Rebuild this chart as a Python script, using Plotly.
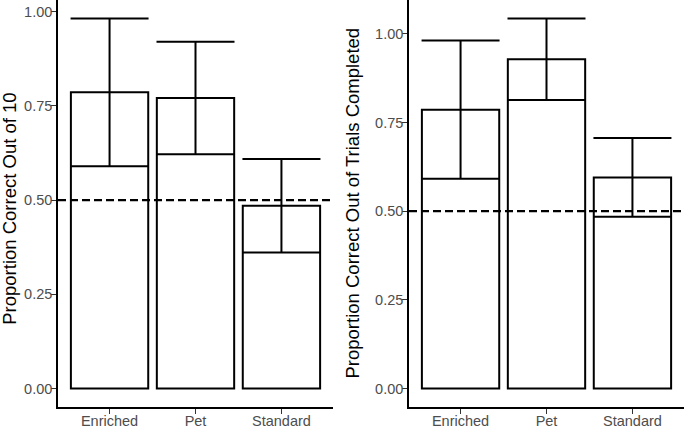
import plotly.graph_objects as go

categories = ["Enriched", "Pet", "Standard"]
left_mean = [0.786, 0.771, 0.485]
left_se = [0.196, 0.149, 0.124]
right_mean = [0.786, 0.928, 0.595]
right_se = [0.195, 0.115, 0.111]
chance = 0.5
left_title = "Proportion Correct Out of 10"
right_title = "Proportion Correct Out of Trials Completed"
y_ticks = [0, 0.25, 0.5, 0.75, 1.0]
y_ticktext = ["0.00", "0.25", "0.50", "0.75", "1.00"]

W, H = 685, 428
fig = go.Figure()

for xa, ya, mean, se in [("x", "y", left_mean, left_se), ("x2", "y2", right_mean, right_se)]:
    fig.add_trace(go.Bar(
        x=categories, y=mean, xaxis=xa, yaxis=ya, width=0.9,
        marker=dict(color="white", line=dict(color="black", width=2)),
        error_y=dict(type="data", array=se, visible=True, width=39, thickness=2, color="black"),
        showlegend=False,
    ))

def yrange(mean, se):
    top = max(m + s for m, s in zip(mean, se))
    return [-0.05 * top, top * 1.05]

tickfont = dict(family="Liberation Sans, Arial, sans-serif", size=14.5, color="#4D4D4D")
common_x = dict(showline=True, linecolor="black", linewidth=1.5, ticks="outside", ticklen=5,
                tickwidth=1.3, tickcolor="#333333", tickfont=tickfont, range=[-0.6, 2.6],
                showgrid=False, zeroline=False, automargin=False, fixedrange=True,
                ticklabelstandoff=-5)
common_y = dict(showline=True, linecolor="black", linewidth=1.5, ticks="outside", ticklen=5,
                tickwidth=1.3, tickcolor="#333333", tickfont=tickfont, tickvals=y_ticks,
                ticktext=y_ticktext, showgrid=False, zeroline=False, automargin=False,
                ticklabelstandoff=-4)

fig.update_layout(
    width=W, height=H,
    margin=dict(l=0, r=0, t=0, b=21),
    paper_bgcolor="white", plot_bgcolor="white",
    xaxis=dict(domain=[58 / W, 333 / W], anchor="y", **common_x),
    yaxis=dict(domain=[0, 1], anchor="x", range=yrange(left_mean, left_se), **common_y),
    xaxis2=dict(domain=[409 / W, 684 / W], anchor="y2", **common_x),
    yaxis2=dict(domain=[0, 1], anchor="x2", range=yrange(right_mean, right_se), **common_y),
    bargap=0.1,
)

for xr, yr in [("x domain", "y"), ("x2 domain", "y2")]:
    fig.add_shape(type="line", xref=xr, yref=yr, x0=0, x1=1, y0=chance, y1=chance,
                  line=dict(color="black", width=2.2, dash="8px,4px"), layer="above")

titlefont = dict(family="Liberation Sans, Arial, sans-serif", size=18.5, color="black")
fig.add_annotation(text=left_title, xref="paper", yref="paper", x=10 / W, y=0.487,
                   xanchor="center", yanchor="middle", textangle=-90, showarrow=False,
                   font=titlefont, borderpad=0)
fig.add_annotation(text=right_title, xref="paper", yref="paper", x=352 / W, y=0.5,
                   xanchor="center", yanchor="middle", textangle=-90, showarrow=False,
                   font=titlefont, borderpad=0)

fig.write_html("out.html", config={"displayModeBar": False},
               post_script="document.body.style.margin='0';document.body.style.overflow='hidden';")
